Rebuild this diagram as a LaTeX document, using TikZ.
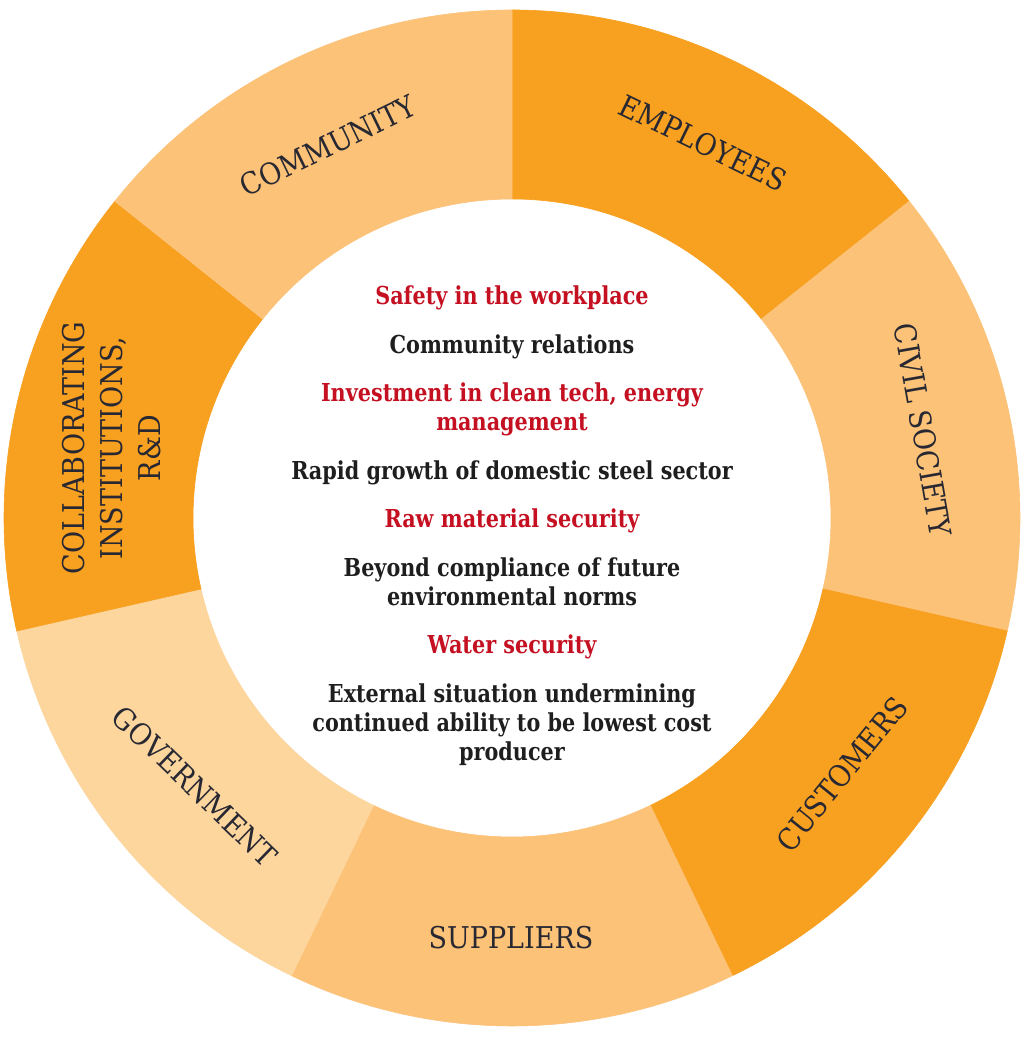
\documentclass[tikz,border=0pt]{standalone}
\usepackage{fontspec}
\newfontfamily\segfont[FakeStretch=0.9]{DejaVu Serif}
\newfontfamily\midfont[FakeStretch=0.84]{DejaVu Serif}
\definecolor{darkor}{RGB}{248,160,32}
\definecolor{lightor}{RGB}{252,194,120}
\definecolor{paleor}{RGB}{253,214,158}
\definecolor{topicred}{RGB}{197,16,34}
\definecolor{topicblack}{RGB}{30,30,30}
\definecolor{labelink}{RGB}{40,40,50}
\begin{document}
\begin{tikzpicture}[x=0.5pt,y=0.5pt,
  seglabel/.style={font=\segfont\fontsize{15}{19}\selectfont, text=labelink, align=center, inner sep=0pt},
  topictext/.style={font=\midfont\bfseries\fontsize{12.35}{14.5}\selectfont, text=topicblack, align=center, inner sep=0pt}
]
\fill[white] (-512,-519) rectangle (512,518);
\useasboundingbox (-512,-519) rectangle (512,518);
\def\Ro{254pt}\def\Ri{159.5pt}
\foreach \a/\c in {90/darkor, 38.571/lightor, -12.857/darkor, -64.286/lightor, -115.714/paleor, -167.143/darkor, 141.429/lightor} {
  \pgfmathsetmacro\b{\a-51.4286}
  \fill[\c, draw=\c, line width=0.3pt] (\a:\Ro) arc[start angle=\a, end angle=\b, radius=\Ro] -- (\b:\Ri) arc[start angle=\b, end angle=\a, radius=\Ri] -- cycle;
}
\node[seglabel, rotate=-26] (employees) at (191,375) {EMPLOYEES};
\node[seglabel, rotate=-80] (civil) at (411,88) {CIVIL SOCIETY};
\node[seglabel, rotate=51] (customers) at (330,-256) {CUSTOMERS};
\node[seglabel] (suppliers) at (-1,-420) {SUPPLIERS};
\node[seglabel, rotate=-44] (government) at (-317,-268) {GOVERNMENT};
\node[seglabel, rotate=90] (collab) at (-400,70) {COLLABORATING\\INSTITUTIONS,\\R\&D};
\node[seglabel, rotate=26] (community) at (-184,372) {COMMUNITY};
\node[topictext] (topics) at (0,-7.5) {%
\textcolor{topicred}{Safety in the workplace}\\[9.75pt]
Community relations\\[9.75pt]
\textcolor{topicred}{Investment in clean tech, energy}\\
\textcolor{topicred}{management}\\[9.75pt]
Rapid growth of domestic steel sector\\[9.75pt]
\textcolor{topicred}{Raw material security}\\[9.75pt]
Beyond compliance of future\\
environmental norms\\[9.75pt]
\textcolor{topicred}{Water security}\\[9.75pt]
External situation undermining\\
continued ability to be lowest cost\\
producer};
\end{tikzpicture}
\end{document}
